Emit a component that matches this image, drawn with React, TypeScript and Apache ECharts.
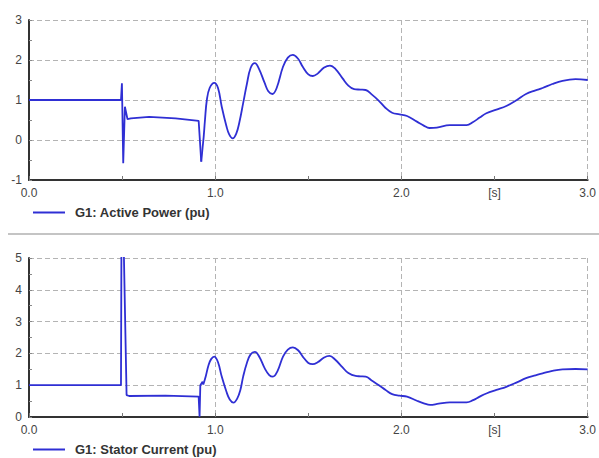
import React, { useEffect, useRef } from "react";
import * as echarts from "echarts";

const powerName = "G1: Active Power (pu)";
const currentName = "G1: Stator Current (pu)";

// Active power: fault part (sharp) and swing part (smooth)
const powerFaultT = [0, 0.494, 0.499, 0.506, 0.515, 0.529, 0.547, 0.645, 0.787, 0.911, 0.925];
const powerFaultV = [1.0, 1.0, 1.42, -0.58, 0.83, 0.52, 0.54, 0.58, 0.54, 0.48, -0.54];
const powerSwingT = [0.925, 0.932, 0.938, 0.945, 0.955, 0.97, 0.995, 1.015, 1.035, 1.06, 1.075, 1.094, 1.113, 1.13, 1.15, 1.17, 1.19, 1.213, 1.235, 1.266, 1.285, 1.307, 1.33, 1.364, 1.39, 1.417, 1.445, 1.47, 1.5, 1.524, 1.55, 1.585, 1.616, 1.645, 1.684, 1.715, 1.746, 1.78, 1.808, 1.84, 1.879, 1.915, 1.95, 1.99, 2.03, 2.083, 2.12, 2.15, 2.19, 2.26, 2.35, 2.385, 2.42, 2.456, 2.51, 2.563, 2.62, 2.669, 2.72, 2.758, 2.81, 2.865, 2.935, 3.0];
const powerSwingV = [-0.54, -0.2, 0.08, 0.5, 1.0, 1.3, 1.43, 1.3, 0.83, 0.35, 0.14, 0.04, 0.16, 0.45, 0.92, 1.4, 1.8, 1.92, 1.78, 1.42, 1.22, 1.15, 1.3, 1.83, 2.06, 2.13, 2.03, 1.83, 1.64, 1.6, 1.66, 1.81, 1.86, 1.78, 1.54, 1.36, 1.27, 1.26, 1.25, 1.14, 0.98, 0.8, 0.68, 0.64, 0.6, 0.46, 0.36, 0.3, 0.31, 0.37, 0.37, 0.45, 0.56, 0.67, 0.76, 0.85, 1.0, 1.15, 1.24, 1.3, 1.4, 1.48, 1.52, 1.5];

// Stator current: fault part (sharp) and swing part (smooth)
const currentFaultT = [0, 0.494, 0.497, 0.505, 0.524, 0.538, 0.733, 0.911, 0.916, 0.92, 0.932, 0.936];
const currentFaultV = [1.0, 1.0, 6.5, 6.5, 0.69, 0.66, 0.67, 0.64, 0.01, 1.0, 1.11, 1.02];
const currentSwingT = [0.936, 0.95, 0.964, 0.978, 0.995, 1.015, 1.035, 1.06, 1.078, 1.098, 1.118, 1.135, 1.15, 1.17, 1.19, 1.213, 1.238, 1.266, 1.29, 1.31, 1.335, 1.364, 1.39, 1.417, 1.445, 1.47, 1.5, 1.524, 1.55, 1.585, 1.613, 1.645, 1.684, 1.715, 1.754, 1.78, 1.808, 1.84, 1.879, 1.915, 1.95, 1.99, 2.03, 2.083, 2.12, 2.154, 2.2, 2.26, 2.35, 2.385, 2.42, 2.456, 2.51, 2.563, 2.62, 2.669, 2.72, 2.758, 2.81, 2.865, 2.935, 3.0];
const currentSwingV = [1.02, 1.3, 1.63, 1.82, 1.9, 1.72, 1.27, 0.8, 0.55, 0.45, 0.58, 0.85, 1.27, 1.7, 1.97, 2.05, 1.88, 1.53, 1.32, 1.27, 1.45, 1.9, 2.12, 2.19, 2.1, 1.9, 1.7, 1.66, 1.72, 1.87, 1.92, 1.8, 1.56, 1.38, 1.29, 1.28, 1.27, 1.15, 1.0, 0.85, 0.72, 0.67, 0.64, 0.51, 0.43, 0.38, 0.42, 0.46, 0.46, 0.53, 0.64, 0.74, 0.85, 0.95, 1.09, 1.22, 1.31, 1.37, 1.45, 1.5, 1.51, 1.5];

const xTicks = { major: 1, minor: 0.5 };

const FONT = "'Liberation Sans', Arial, sans-serif";
const LINE_COLOR = "#2f2fd4";
const GRID_COLOR = "#b4b4b4";

function xLabel(v: number) {
  if (Math.abs(v - 2.5) < 1e-9) return "[s]";
  if (Math.abs(v - Math.round(v)) < 1e-9) return v.toFixed(1);
  return "";
}

function mainX(gridIndex: number) {
  return {
    gridIndex,
    type: "value",
    min: 0,
    max: 3,
    interval: xTicks.minor,
    axisLine: { show: true, onZero: false, lineStyle: { color: "#333", width: 2 } },
    axisTick: { show: true, inside: true, length: 4, lineStyle: { color: "#777" } },
    axisLabel: { formatter: xLabel, color: "#444", fontSize: 12, margin: 7, fontFamily: FONT },
    splitLine: { show: false },
  };
}

function gridX(gridIndex: number) {
  return {
    gridIndex,
    type: "value",
    min: 0,
    max: 3,
    interval: xTicks.major,
    axisLine: { show: false },
    axisTick: { show: false },
    axisLabel: { show: false },
    splitLine: { show: true, lineStyle: { color: GRID_COLOR, type: [5, 3], width: 1 } },
  };
}

function yAxis(gridIndex: number, min: number, max: number) {
  return {
    gridIndex,
    type: "value",
    min,
    max,
    interval: 1,
    axisLine: { show: true, onZero: false, lineStyle: { color: "#333", width: 2 } },
    axisTick: { show: true, inside: true, length: 3, lineStyle: { color: "#888" } },
    minorTick: { show: true, splitNumber: 2, length: 3, lineStyle: { color: "#888" } },
    axisLabel: { color: "#444", fontSize: 12, margin: 7, fontFamily: FONT },
    splitLine: { show: true, lineStyle: { color: GRID_COLOR, type: [5, 3], width: 1 } },
  };
}

function zip(t: number[], v: number[]) {
  return t.map((x, i) => [x, v[i]]);
}

function lineSeries(name: string, xi: number, yi: number, data: number[][], smooth: number | boolean) {
  return {
    name,
    type: "line",
    xAxisIndex: xi,
    yAxisIndex: yi,
    data,
    showSymbol: false,
    smooth,
    clip: true,
    lineStyle: { color: LINE_COLOR, width: 1.8 },
    itemStyle: { color: LINE_COLOR },
  };
}

export default function App() {
  const ref = useRef<HTMLDivElement>(null);
  useEffect(() => {
    if (!ref.current) return;
    const chart = echarts.init(ref.current, undefined, { renderer: "svg" });
    const legendBase = {
      left: 28,
      icon: "rect",
      itemWidth: 32,
      itemHeight: 2,
      itemGap: 0,
      textStyle: { fontSize: 13, fontWeight: "bold", color: "#333", fontFamily: FONT, padding: [0, 0, 0, 5] },
    };
    chart.setOption({
      animation: false,
      textStyle: { fontFamily: FONT },
      grid: [
        { left: 29, top: 20, width: 563, height: 160 },
        { left: 29, top: 258, width: 563, height: 159 },
      ],
      legend: [
        { ...legendBase, top: 201, data: [powerName] },
        { ...legendBase, top: 438, data: [currentName] },
      ],
      xAxis: [mainX(0), gridX(0), mainX(1), gridX(1)],
      yAxis: [yAxis(0, -1, 3), yAxis(1, 0, 5)],
      graphic: [
        {
          type: "rect",
          shape: { x: 8, y: 233, width: 591, height: 2 },
          style: { fill: "#c4c4c4" },
          silent: true,
        },
      ],
      series: [
        lineSeries(powerName, 0, 0, zip(powerFaultT, powerFaultV), false),
        lineSeries(powerName, 0, 0, zip(powerSwingT, powerSwingV), 0.4),
        lineSeries(currentName, 2, 1, zip(currentFaultT, currentFaultV), false),
        lineSeries(currentName, 2, 1, zip(currentSwingT, currentSwingV), 0.4),
      ],
    });
    return () => chart.dispose();
  }, []);
  return (
    <div
      ref={ref}
      style={{ position: "absolute", left: 0, top: 0, width: 599, height: 458, background: "#fff" }}
    />
  );
}
